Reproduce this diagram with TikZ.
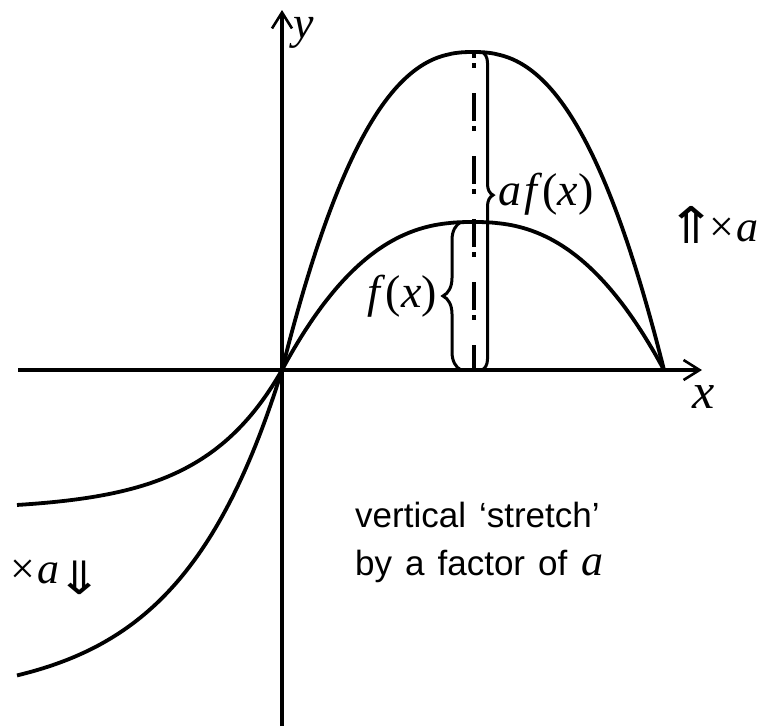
\documentclass[tikz,border=0pt]{standalone}
\usepackage{fontspec}
\setmainfont{Liberation Serif}
\newfontfamily\sansfnt{Liberation Sans}
\newfontfamily\arrowfnt{DejaVu Sans}
\usetikzlibrary{arrows.meta,decorations.pathreplacing}
\newcommand{\mi}[1]{\textit{#1}}
\newcommand{\wsp}{\hspace{13pt}}
\begin{document}
\begin{tikzpicture}[x=1pt,y=-1pt,
  curve/.style={line width=3.8pt, line join=round},
  axisline/.style={line width=3.6pt, -{Straight Barb[length=16pt,width=20pt,line width=2.6pt]}},
  bracefx/.style={line width=3pt, decorate, decoration={brace, amplitude=#1}},
  dashdot/.style={line width=3.6pt, dash pattern=on 28pt off 5pt on 5pt off 25pt, dash phase=22pt},
  mathlbl/.style={inner sep=0pt, font=\fontsize{46}{50}\selectfont},
  smalllbl/.style={inner sep=0pt, font=\fontsize{44}{48}\selectfont},
  dblarrow/.style={inner sep=0pt, font=\arrowfnt\fontsize{46}{50}\selectfont},
  sanslbl/.style={inner sep=0pt, font=\sansfnt\fontsize{35}{40}\selectfont}]
\useasboundingbox (0,0) rectangle (763,726);
% axes
\coordinate (O) at (282,370);
\coordinate (xl) at (18,370);
\coordinate (xr) at (702,370);
\coordinate (yb) at (282,726);
\coordinate (yt) at (282,10);
\draw[axisline] (xl) -- (xr);
\draw[axisline] (yb) -- (yt);
% curves
\draw[curve] plot[domain=-265:0,samples=80] ({282+\x},{370+140*(1-exp(0.01255*\x))})
  -- plot[domain=0:382,samples=120] ({282+\x},{370-148*(1-abs(2*\x/382-1)^2.4)});
\draw[curve] plot[domain=-265:0,samples=80] ({282+\x},{370+330*(1-exp(0.0098*\x))})
  -- plot[domain=0:382,samples=120] ({282+\x},{370-318*(1-abs(2*\x/382-1)^2.4)});
% dash-dot line
\coordinate (pk) at (474,52);
\coordinate (pb) at (474,370);
\draw[dashdot] (pk) -- (pb);
% braces
\coordinate (fb) at (461,370);
\coordinate (ft) at (461,222);
\draw[bracefx=18pt] (fb) -- (ft);
\coordinate (ab) at (482,370);
\coordinate (at) at (482,52);
\draw[bracefx=11pt, decoration={aspect=0.45}] (at) -- (ab);
% labels
\node[mathlbl, anchor=base west] (ylab) at (293,38) {\mi{y}};
\node[mathlbl, anchor=base west, font=\fontsize{50}{54}\selectfont] (xlab) at (692,408) {\mi{x}};
\node[mathlbl, anchor=base east] (flab) at (437,307) {\mi{f}(\mi{x})};
\node[mathlbl, anchor=base west] (aflab) at (498,205) {\mi{a}\kern3pt\mi{f}(\mi{x})};
\node[dblarrow] (uparr) at (692,225) {\scalebox{1.3}[1.1]{⇑}};
\node[smalllbl, anchor=base west] (upx) at (709,241) {×\kern2pt\mi{a}};
\node[smalllbl, anchor=base west] (downx) at (10,583) {×\kern2pt\mi{a}};
\node[dblarrow] (downarr) at (80,578) {\scalebox{1.2}[1.0]{⇓}};
\node[sanslbl, anchor=base west] (t1) at (355,527) {vertical\wsp‘stretch’};
\node[sanslbl, anchor=base west] (t2) at (355,575) {by\wsp a\wsp factor\wsp of\hspace{14pt}{\rmfamily\fontsize{44}{48}\selectfont\mi{a}}};
\end{tikzpicture}
\end{document}
